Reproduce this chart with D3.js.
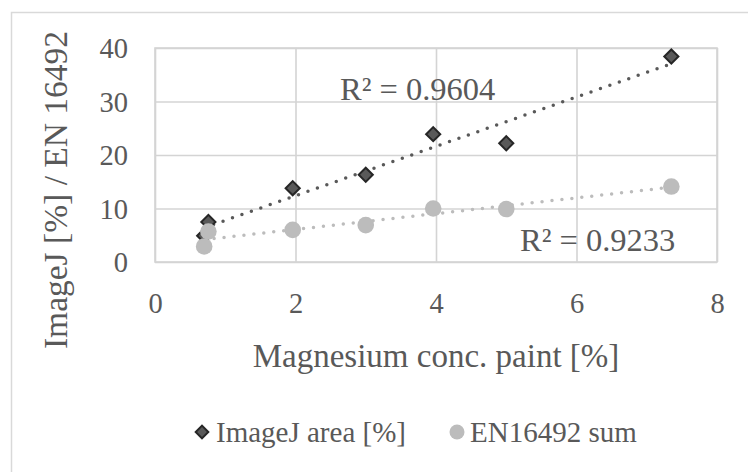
<!DOCTYPE html>
<html>
<head>
<meta charset="utf-8">
<script src="https://cdn.jsdelivr.net/npm/d3@7"></script>
<style>
  html, body { margin: 0; padding: 0; background: #fff; }
  svg { display: block; }
</style>
</head>
<body>
<svg id="chart" width="748" height="472"></svg>
<script>
// ---- data ----
const magnesium = [0.70, 0.76, 1.96, 3.00, 3.96, 5.00, 7.35];
const imagejArea = [4.9, 7.5, 13.8, 16.3, 23.9, 22.2, 38.4];
const en16492Sum = [2.9, 5.7, 6.0, 6.9, 10.0, 9.9, 14.1];
const xTicks = [0, 2, 4, 6, 8];
const yTicks = [0, 10, 20, 30, 40];
const seriesNames = ["ImageJ area [%]", "EN16492 sum"];
const r2Labels = ["R² = 0.9604", "R² = 0.9233"];
const xTitle = "Magnesium conc. paint [%]";
const yTitle = "ImageJ [%] / EN 16492";

const FONT = '"Liberation Serif", "Times New Roman", serif';
const TXT = "#595959";
const svg = d3.select("#chart");
const plot = { left: 155, right: 717, top: 48, bottom: 262 };

function styleText(sel, size) {
  return sel.style("font-family", FONT).style("font-size", size + "px").style("fill", TXT);
}

// chart area border
svg.append("rect").attr("x", 11.5).attr("y", 12.5).attr("width", 800).attr("height", 500)
  .attr("fill", "#fff").attr("stroke", "#d9d9d9").attr("stroke-width", 1.5);

const x = d3.scaleLinear().domain([0, 8]).range([plot.left, plot.right]);
const y = d3.scaleLinear().domain([0, 40]).range([plot.bottom, plot.top]);

const gridColor = "#d4d4d4";
const gx = svg.append("g").attr("transform", `translate(0,${plot.bottom})`)
  .call(d3.axisBottom(x).tickValues(xTicks).tickSize(-(plot.bottom - plot.top)).tickFormat(""));
const gy = svg.append("g").attr("transform", `translate(${plot.left},0)`)
  .call(d3.axisLeft(y).tickValues(yTicks).tickSize(-(plot.right - plot.left)).tickFormat(""));
[gx, gy].forEach(g => {
  g.select(".domain").remove();
  g.selectAll(".tick line").attr("stroke", gridColor).attr("stroke-width", 1.6);
});
svg.append("rect").attr("x", plot.left).attr("y", plot.top)
  .attr("width", plot.right - plot.left).attr("height", plot.bottom - plot.top)
  .attr("fill", "none").attr("stroke", gridColor).attr("stroke-width", 1.6);

// tick labels
const ax = svg.append("g").attr("transform", `translate(0,${plot.bottom})`)
  .call(d3.axisBottom(x).tickValues(xTicks).tickSize(0).tickPadding(0).tickFormat(d3.format("d")));
ax.select(".domain").remove();
styleText(ax.selectAll("text").attr("dy", null).attr("y", 51), 28.5);

const ay = svg.append("g").attr("transform", `translate(128,0)`)
  .call(d3.axisLeft(y).tickValues(yTicks).tickSize(0).tickPadding(0).tickFormat(d3.format("d")));
ay.select(".domain").remove();
styleText(ay.selectAll("text").attr("x", 0).attr("dy", "0.35em"), 28.5);

// axis titles
styleText(svg.append("text").attr("x", (plot.left + plot.right) / 2).attr("y", 367)
  .attr("text-anchor", "middle").text(xTitle), 33);
styleText(svg.append("text").attr("transform", `translate(66.5,190) rotate(-90)`)
  .attr("text-anchor", "middle").text(yTitle), 33.5);

// linear regression trendlines
function fit(xs, ys) {
  const mx = d3.mean(xs), my = d3.mean(ys);
  let sxy = 0, sxx = 0;
  xs.forEach((v, i) => { sxy += (v - mx) * (ys[i] - my); sxx += (v - mx) ** 2; });
  const b = sxy / sxx, a = my - b * mx;
  const x0 = d3.min(xs), x1 = d3.max(xs);
  return [[x0, a + b * x0], [x1, a + b * x1]];
}
const line = d3.line().x(d => x(d[0])).y(d => y(d[1]));
const darkC = "#595959", lightC = "#bcbcbc";
svg.append("path").attr("d", line(fit(magnesium, en16492Sum)))
  .attr("fill", "none").attr("stroke", lightC).attr("stroke-width", 3.5)
  .attr("stroke-linecap", "round").attr("stroke-dasharray", "0 10");
svg.append("path").attr("d", line(fit(magnesium, imagejArea)))
  .attr("fill", "none").attr("stroke", darkC).attr("stroke-width", 3.5)
  .attr("stroke-linecap", "round").attr("stroke-dasharray", "0 10");

// markers
const diamond = d3.symbol().type(d3.symbolSquare).size(100);
svg.append("g").selectAll("path").data(magnesium.map((m, i) => [m, imagejArea[i]]))
  .join("path")
  .attr("d", diamond())
  .attr("transform", d => `translate(${x(d[0])},${y(d[1])}) rotate(45)`)
  .attr("fill", darkC).attr("stroke", "#262626").attr("stroke-width", 2);
svg.append("g").selectAll("circle").data(magnesium.map((m, i) => [m, en16492Sum[i]]))
  .join("circle")
  .attr("cx", d => x(d[0])).attr("cy", d => y(d[1])).attr("r", 8.3)
  .attr("fill", lightC);

// R² labels
styleText(svg.append("text").attr("x", 340).attr("y", 100).text(r2Labels[0]), 32.5);
styleText(svg.append("text").attr("x", 520).attr("y", 251).text(r2Labels[1]), 32.5);

// legend
const lg = svg.append("g");
lg.append("path").attr("d", d3.symbol().type(d3.symbolSquare).size(80)())
  .attr("transform", "translate(202,432) rotate(45)")
  .attr("fill", darkC).attr("stroke", "#262626").attr("stroke-width", 2);
styleText(lg.append("text").attr("x", 216).attr("y", 442).text(seriesNames[0]), 29);
lg.append("circle").attr("cx", 457).attr("cy", 432).attr("r", 7.5).attr("fill", lightC);
styleText(lg.append("text").attr("x", 470).attr("y", 442).text(seriesNames[1]), 29);
</script>
</body>
</html>
